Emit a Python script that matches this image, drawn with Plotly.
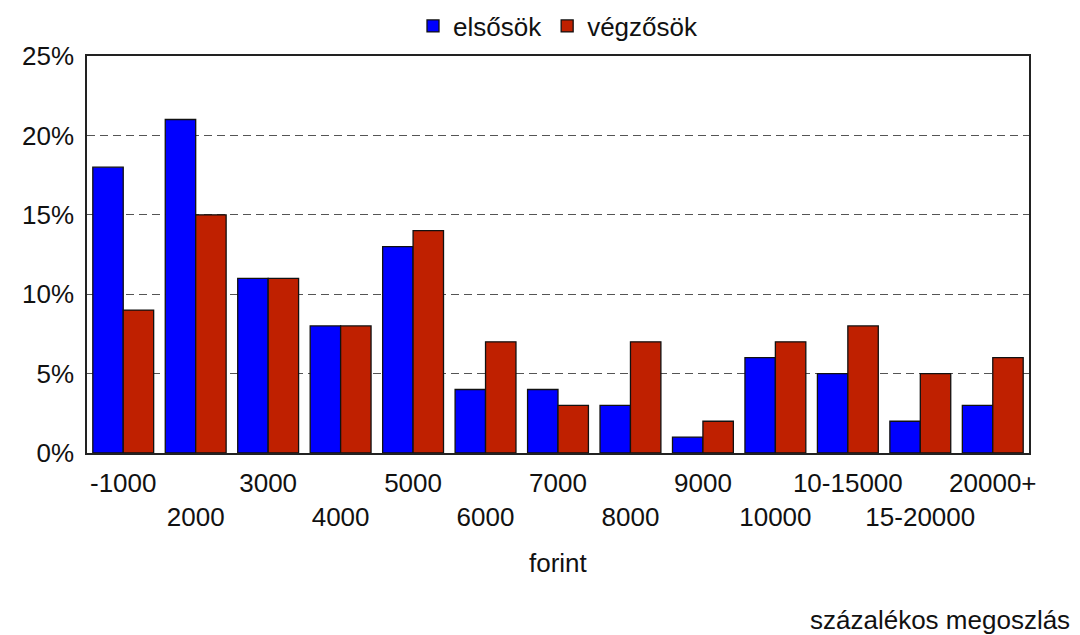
import plotly.graph_objects as go

categories = ["-1000", "2000", "3000", "4000", "5000", "6000", "7000", "8000",
              "9000", "10000", "10-15000", "15-20000", "20000+"]
elsosok = [18, 21, 11, 8, 13, 4, 4, 3, 1, 6, 5, 2, 3]
vegzosok = [9, 15, 11, 8, 14, 7, 3, 7, 2, 7, 8, 5, 6]
y_ticks = [0, 5, 10, 15, 20, 25]

FONT = "Liberation Sans, Arial, sans-serif"
xpos = list(range(len(categories)))
ticktext = [(c + "<br> ") if i % 2 == 0 else ("<br>" + c) for i, c in enumerate(categories)]

# page body has an 8px margin; work in page pixels and offset
OFF = 8
W, H = 1080 - OFF, 635 - OFF
ML, MR, MT, MB = 87 - OFF, 1080 - 1029, 56 - OFF, 635 - 453
plot_h = H - MT - MB
plot_w = W - ML - MR


def py(ypix):
    return (H - MB - (ypix - OFF)) / plot_h


def px(xpix):
    return ((xpix - OFF) - ML) / plot_w


fig = go.Figure()
fig.add_trace(go.Bar(x=xpos, y=elsosok, name="elsősök",
                     marker=dict(color="#0000FF", line=dict(color="#111111", width=1.3))))
fig.add_trace(go.Bar(x=xpos, y=vegzosok, name="végzősök",
                     marker=dict(color="#BF2000", line=dict(color="#111111", width=1.3))))

fig.update_layout(
    width=W, height=H,
    margin=dict(l=ML, r=MR, t=MT, b=MB, autoexpand=False),
    paper_bgcolor="white", plot_bgcolor="white",
    font=dict(family=FONT, size=26, color="#111111"),
    barmode="group", bargap=0.16, bargroupgap=0,
    showlegend=True,
    legend=dict(orientation="h", x=0.5, xanchor="center", y=py(26), yanchor="middle",
                font=dict(size=26), traceorder="normal",
                bgcolor="rgba(0,0,0,0)", tracegroupgap=0),
    xaxis=dict(range=[-0.5, len(categories) - 0.5], tickmode="array",
               tickvals=xpos, ticktext=ticktext, tickangle=0, showgrid=False,
               zeroline=False, automargin=False,
               showline=True, linecolor="#222222", linewidth=1.5, mirror=True,
               ticks="outside", ticklen=6, tickcolor="rgba(0,0,0,0)",
               tickfont=dict(size=26)),
    yaxis=dict(range=[0, 25], tickmode="array", tickvals=y_ticks,
               ticktext=[f"{v}%" for v in y_ticks], showgrid=True, automargin=False,
               gridcolor="#555555", griddash="8px,5px", gridwidth=1,
               zeroline=False, showline=True, linecolor="#222222", linewidth=1.5,
               mirror=True, ticks="outside", ticklen=6, tickcolor="rgba(0,0,0,0)",
               tickfont=dict(size=26)),
    annotations=[
        dict(text="forint", x=0.5, xref="paper", y=py(563), yref="paper",
             showarrow=False, font=dict(size=26), yanchor="middle"),
        dict(text="százalékos megoszlás", x=px(1072), xref="paper", y=py(620),
             yref="paper", showarrow=False, font=dict(size=26),
             xanchor="right", yanchor="middle"),
    ],
)

fig.write_html("out.html")
